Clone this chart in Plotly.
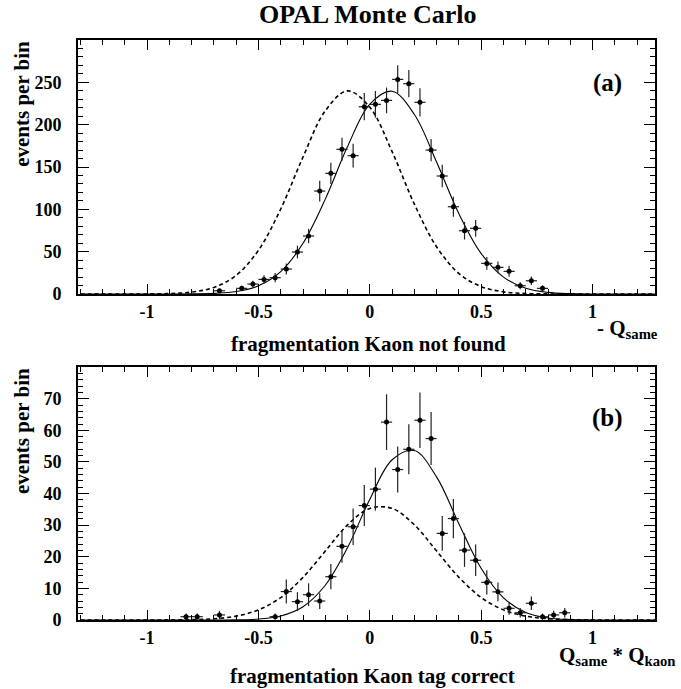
import plotly.graph_objects as go
from plotly.subplots import make_subplots

# ---------------- data ----------------
# panel (a): fragmentation Kaon not found, x = -Q_same
a_x = [-0.675, -0.575, -0.525, -0.475, -0.425, -0.375, -0.325, -0.275, -0.225, -0.175,
       -0.125, -0.075, -0.025, 0.025, 0.075, 0.125, 0.175, 0.225, 0.275, 0.325,
       0.375, 0.425, 0.475, 0.525, 0.575, 0.625, 0.675, 0.725, 0.775]
a_y = [3.9, 6.7, 11.8, 17.3, 19.3, 29.5, 49.6, 68.5, 121.6, 142.5,
       170.9, 163.4, 221.2, 224.0, 228.7, 253.5, 248.4, 226.4, 170.0, 139.4,
       103.1, 74.8, 77.6, 36.2, 31.5, 26.8, 9.8, 15.7, 6.7]
a_err = [2.5, 3.0, 4.0, 5.0, 5.5, 6.5, 7.5, 8.5, 12.2, 12.6,
         13.6, 14.0, 16.1, 15.7, 15.2, 16.7, 16.1, 16.7, 13.2, 13.2,
         11.8, 10.4, 9.8, 7.5, 6.9, 6.5, 4.0, 5.0, 3.5]

# panel (b): fragmentation Kaon tag correct, x = Q_same * Q_kaon
b_x = [-0.825, -0.775, -0.675, -0.425, -0.375, -0.325, -0.275, -0.225, -0.175, -0.125,
       -0.075, -0.025, 0.025, 0.075, 0.125, 0.175, 0.225, 0.275, 0.325, 0.375,
       0.425, 0.475, 0.525, 0.575, 0.625, 0.675, 0.725, 0.775, 0.825, 0.875]
b_y = [1.05, 1.05, 1.6, 1.05, 9.0, 5.8, 8.0, 6.0, 13.7, 23.3,
       29.5, 36.2, 41.4, 62.6, 47.6, 54.0, 63.2, 57.4, 27.4, 32.1,
       22.1, 18.9, 11.9, 8.9, 3.7, 2.3, 5.3, 1.05, 1.6, 2.3]
b_err = [1.0, 1.0, 1.3, 1.0, 3.8, 3.0, 3.6, 2.5, 4.0, 5.2,
         5.8, 6.5, 6.8, 8.8, 7.3, 7.9, 8.8, 8.4, 5.5, 6.2,
         5.3, 5.0, 3.8, 3.0, 2.0, 1.5, 2.1, 1.0, 1.3, 1.5]

# fitted curves
curve_x = [-1.3, -1.2, -1.1, -1.0, -0.9, -0.8, -0.7, -0.6, -0.5, -0.4, -0.3, -0.2, -0.1,
           0.0, 0.1, 0.2, 0.3, 0.4, 0.5, 0.6, 0.7, 0.8, 0.9, 1.0, 1.1, 1.2, 1.3]
a_solid = [0, 0, 0, 0.0, 0.03, 0.16, 0.74, 2.95, 9.7, 26.5, 59.9, 112.1, 174.2,
           224.3, 239.5, 212.0, 155.6, 94.7, 47.8, 20.0, 6.9, 2.0, 0.48, 0.09, 0.02, 0, 0]
a_dashed = [0, 0, 0.02, 0.11, 0.55, 2.28, 7.8, 22.0, 51.6, 100.4, 161.8, 216.4, 239.9,
            220.5, 168.1, 106.1, 55.6, 24.2, 8.7, 2.6, 0.64, 0.13, 0.02, 0, 0, 0, 0]
b_solid = [0, 0, 0, 0, 0, 0, 0.01, 0.06, 0.31, 1.27, 4.2, 11.0, 22.9,
           38.2, 50.7, 53.6, 45.2, 30.4, 16.3, 7.0, 2.4, 0.64, 0.14, 0.02, 0, 0, 0]
b_dashed = [0, 0, 0, 0.01, 0.03, 0.11, 0.40, 1.22, 3.2, 7.1, 13.5, 21.8, 30.1,
            35.3, 35.3, 30.1, 21.8, 13.5, 7.1, 3.2, 1.22, 0.40, 0.11, 0.03, 0, 0, 0]

x_ticks = [-1, -0.5, 0, 0.5, 1]
x_tick_text = ["-1", "-0.5", "0", "0.5", "1"]
a_yticks = [0, 50, 100, 150, 200, 250]
b_yticks = [0, 10, 20, 30, 40, 50, 60, 70]

# ---------------- figure ----------------
FONT = "Liberation Serif"
fig = make_subplots(rows=2, cols=1, vertical_spacing=0.126)

def add_panel(row, xs, ys, errs, sx, solid, dashed):
    fig.add_trace(go.Scatter(x=sx, y=dashed, mode="lines",
                             line=dict(color="black", width=1.6, dash="4px,3px", shape="spline"),
                             hoverinfo="skip", showlegend=False), row=row, col=1)
    fig.add_trace(go.Scatter(x=sx, y=solid, mode="lines",
                             line=dict(color="black", width=1.1, shape="spline"),
                             hoverinfo="skip", showlegend=False), row=row, col=1)
    fig.add_trace(go.Scatter(x=xs, y=ys, mode="markers", marker=dict(color="black", size=5),
                             error_y=dict(type="data", array=errs, visible=True, color="#222", thickness=1.2, width=0),
                             error_x=dict(type="constant", value=0.025, visible=True, color="#222", thickness=1.2, width=0),
                             showlegend=False), row=row, col=1)

add_panel(1, a_x, a_y, a_err, curve_x, a_solid, a_dashed)
add_panel(2, b_x, b_y, b_err, curve_x, b_solid, b_dashed)

tickfont = dict(family=FONT, size=18, color="black", weight="bold")
axis_common = dict(showline=True, linecolor="black", linewidth=2, mirror="ticks",
                   ticks="inside", tickcolor="black", tickwidth=1.3, showgrid=False, zeroline=False,
                   tickfont=tickfont)
for r in (1, 2):
    fig.update_xaxes(range=[-1.31, 1.28], tickmode="array", tickvals=x_ticks, ticktext=x_tick_text,
                     ticklen=10,
                     minor=dict(dtick=0.1, tick0=0, ticks="inside", ticklen=5, tickcolor="black", tickwidth=1.2),
                     **axis_common, row=r, col=1)
fig.update_yaxes(range=[0, 300], tickmode="array", tickvals=a_yticks, ticklen=11, ticklabelstandoff=11,
                 minor=dict(dtick=10, tick0=0, ticks="inside", ticklen=5, tickcolor="black", tickwidth=1.2),
                 **axis_common, row=1, col=1)
fig.update_yaxes(range=[0, 80], tickmode="array", tickvals=b_yticks, ticklen=11, ticklabelstandoff=11,
                 minor=dict(dtick=2, tick0=0, ticks="inside", ticklen=5, tickcolor="black", tickwidth=1.2),
                 **axis_common, row=2, col=1)
fig.update_xaxes(domain=[0, 1])
fig.update_yaxes(domain=[0.562, 1], row=1, col=1)
fig.update_yaxes(domain=[0, 0.436], row=2, col=1)

lab = dict(family=FONT, size=21, color="black")
ann = [
    dict(text="<b>(a)</b>", x=1.069, y=249, xref="x", yref="y", showarrow=False,
         font=dict(family=FONT, size=25, color="black")),
    dict(text="<b>(b)</b>", x=1.069, y=64, xref="x2", yref="y2", showarrow=False,
         font=dict(family=FONT, size=25, color="black")),
    dict(text="<b>- Q<sub>same</sub></b>", x=1.009, y=0.502, xref="paper", yref="paper",
         xanchor="right", yanchor="middle", showarrow=False, font=lab),
    dict(text="<b>fragmentation Kaon not found</b>", x=0.503, y=0.476, xref="paper", yref="paper",
         xanchor="center", yanchor="middle", showarrow=False, font=lab),
    dict(text="<b>Q<sub>same</sub> * Q<sub>kaon</sub></b>", x=1.04, y=-0.062, xref="paper", yref="paper",
         xanchor="right", yanchor="middle", showarrow=False, font=lab),
    dict(text="<b>fragmentation Kaon tag correct</b>", x=0.51, y=-0.097, xref="paper", yref="paper",
         xanchor="center", yanchor="middle", showarrow=False, font=lab),
    dict(text="<b>events per bin</b>", x=-0.097, y=0.89, xref="paper", yref="paper", textangle=-90,
         xanchor="center", yanchor="middle", showarrow=False, font=lab),
    dict(text="<b>events per bin</b>", x=-0.097, y=0.326, xref="paper", yref="paper", textangle=-90,
         xanchor="center", yanchor="middle", showarrow=False, font=lab),
]
fig.update_layout(
    width=681, height=689,
    margin=dict(l=78, r=26, t=40, b=69),
    paper_bgcolor="white", plot_bgcolor="white",
    title=dict(text="<b>OPAL Monte Carlo</b>", x=0.54, xanchor="center", y=0.980, yanchor="middle",
               font=dict(family=FONT, size=26, color="black")),
    annotations=ann,
)

fig.write_html("out.html")
